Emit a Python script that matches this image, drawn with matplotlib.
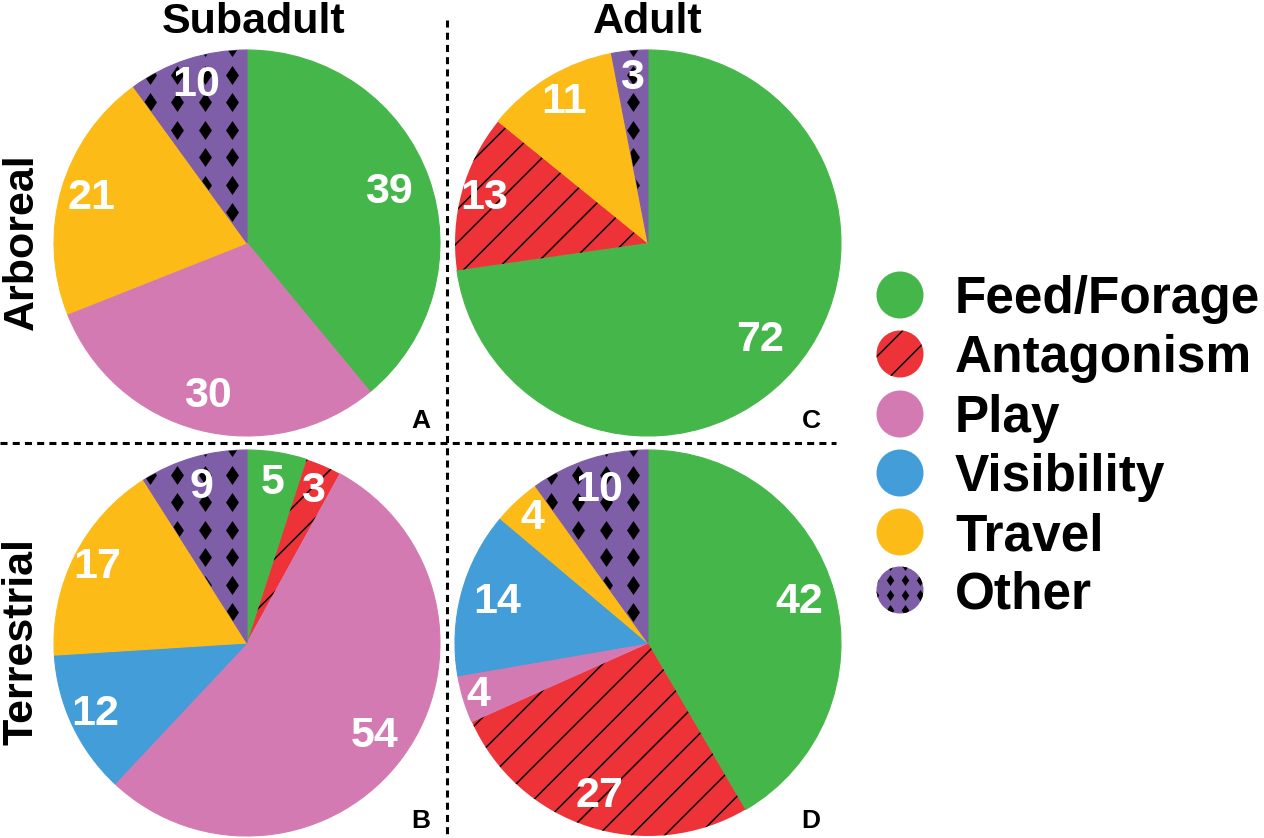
import numpy as np
import matplotlib
matplotlib.use("Agg")
import matplotlib.pyplot as plt
from matplotlib.patches import Circle
from matplotlib.lines import Line2D

# --- data ---
categories = ["Feed/Forage", "Antagonism", "Play", "Visibility", "Travel", "Other"]
subadult_arboreal = [39, 0, 30, 0, 21, 10]
adult_arboreal = [72, 13, 0, 0, 11, 3]
subadult_terrestrial = [5, 3, 54, 12, 17, 9]
adult_terrestrial = [42, 27, 4, 14, 4, 10]

col_titles = ["Subadult", "Adult"]
row_titles = ["Arboreal", "Terrestrial"]
panel_letters = ["A", "C", "B", "D"]

colors = ["#45B649", "#EE3338", "#D47AB2", "#429DD8", "#FDBB17", "#7F5EA8"]
hatches = [None, "/", None, None, None, None]

# label distance from centre (fraction of radius), per pie / category
label_r = [
    [0.78, 0.83, 0.82, 0.83, 0.84, 0.86],
    [0.77, 0.88, 0.83, 0.83, 0.85, 0.86],
    [0.84, 0.86, 0.82, 0.87, 0.87, 0.84],
    [0.81, 0.83, 0.92, 0.81, 0.88, 0.83],
]

plt.rcParams["font.family"] = ["Liberation Sans", "DejaVu Sans"]
plt.rcParams["font.weight"] = "bold"
plt.rcParams["hatch.linewidth"] = 1.1

W, H = 1264, 838
fig = plt.figure(figsize=(W / 100, H / 100), dpi=100)

# overlay axes in pixel coordinates (y down)
bg = fig.add_axes([0, 0, 1, 1])
bg.set_xlim(0, W)
bg.set_ylim(H, 0)
bg.axis("off")

diamond = [(0, 1), (0.68, 0), (0, -1), (-0.68, 0)]


def diamond_fill(ax, patch, x0, y0, step, size, extent):
    xs = np.arange(x0 - extent, x0 + extent, step)
    ys = np.arange(y0 - extent, y0 + extent, step)
    gx, gy = np.meshgrid(xs, ys)
    sc = ax.scatter(gx.ravel(), gy.ravel(), marker=diamond, s=size, c="black",
                    linewidths=0, zorder=3)
    sc.set_clip_path(patch)


R = 193
centers = [(247, 243), (648, 243), (247, 643), (648, 643)]
letter_dx = [174, 163, 174, 163]
pies = [subadult_arboreal, adult_arboreal, subadult_terrestrial, adult_terrestrial]

for (cx, cy), values, letter, ldx, radii in zip(centers, pies, panel_letters,
                                               letter_dx, label_r):
    ax = fig.add_axes([(cx - R) / W, (H - cy - R) / H, 2 * R / W, 2 * R / H])
    idx = [i for i, v in enumerate(values) if v > 0]
    vals = [values[i] for i in idx]
    wedges, _ = ax.pie(vals, colors=[colors[i] for i in idx], startangle=90,
                       counterclock=False, radius=1)
    for w, i, v in zip(wedges, idx, vals):
        if hatches[i]:
            w.set_hatch(hatches[i])
            w.set_linewidth(0)
        else:
            w.set_edgecolor(colors[i])
            w.set_linewidth(0.8)
        if categories[i] == "Other":
            diamond_fill(ax, w, -3 / R, 180 / R, 27.5 / R, 187, 1.2)
        mid = np.deg2rad((w.theta1 + w.theta2) / 2)
        r = radii[i]
        ax.text(r * np.cos(mid), r * np.sin(mid), str(v), color="white",
                fontsize=31, fontweight="bold", ha="center", va="center", zorder=5)
    ax.set_xlim(-1, 1)
    ax.set_ylim(-1, 1)
    ax.set_aspect("equal")
    ax.axis("off")
    bg.text(cx + ldx, cy + 185, letter, fontsize=19, fontweight="bold",
            ha="center", va="baseline")

# column / row titles
for x, t in zip([254, 648], col_titles):
    bg.text(x, 33, t, fontsize=31, fontweight="bold", ha="center", va="baseline")
for y, t in zip([242, 642], row_titles):
    bg.text(33, y, t, fontsize=31, fontweight="bold", ha="center", va="baseline",
            rotation=90, rotation_mode="anchor")

# dashed separators
bg.add_line(Line2D([447, 447], [20, H], color="black", lw=2.2, dashes=(2.3, 1.7)))
bg.add_line(Line2D([0, 836], [443, 443], color="black", lw=2.2, dashes=(2.3, 1.7)))

# legend
leg_y = [295, 354, 414, 473, 532, 590]
for y, name, c, h in zip(leg_y, categories, colors, hatches):
    circ = Circle((900, y), 23.5, facecolor=c, hatch=h, linewidth=0)
    bg.add_patch(circ)
    if name == "Other":
        diamond_fill(bg, circ, 900, y, 15, 63, 40)
    bg.text(955, y + 18, name, fontsize=37, fontweight="bold", ha="left", va="baseline")

fig.savefig("out.png", dpi=100)
